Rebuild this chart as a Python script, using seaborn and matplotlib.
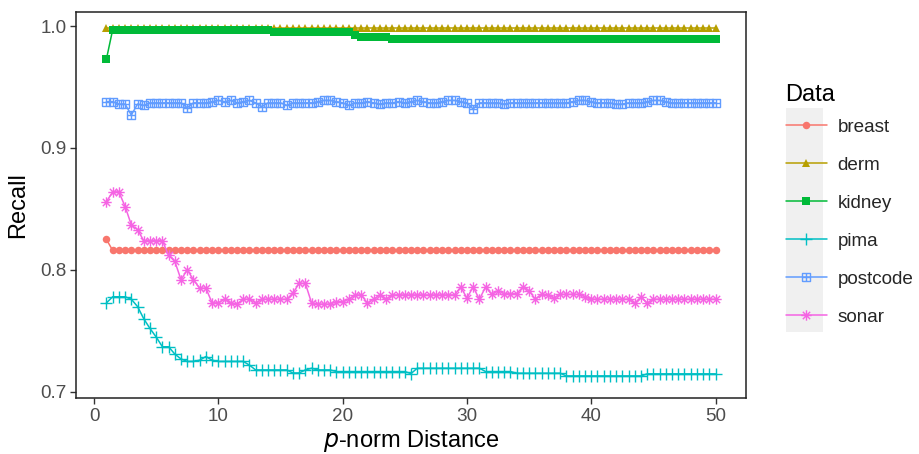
import numpy as np
import pandas as pd
import matplotlib
matplotlib.use("Agg")
import matplotlib.pyplot as plt
import seaborn as sns
from matplotlib.path import Path
from matplotlib.patches import Rectangle

# ---------------- data ----------------
p_values = np.arange(1.0, 50.01, 0.5)   # 99 p-norm distances

breast = [0.825, 0.816, 0.816, 0.816, 0.816, 0.816, 0.816, 0.816, 0.816, 0.816,
          0.816, 0.816, 0.816, 0.816, 0.816, 0.816, 0.816, 0.816, 0.816, 0.816,
          0.816, 0.816, 0.816, 0.816, 0.816, 0.816, 0.816, 0.816, 0.816, 0.816,
          0.816, 0.816, 0.816, 0.816, 0.816, 0.816, 0.816, 0.816, 0.816, 0.816,
          0.816, 0.816, 0.816, 0.816, 0.816, 0.816, 0.816, 0.816, 0.816, 0.816,
          0.816, 0.816, 0.816, 0.816, 0.816, 0.816, 0.816, 0.816, 0.816, 0.816,
          0.816, 0.816, 0.816, 0.816, 0.816, 0.816, 0.816, 0.816, 0.816, 0.816,
          0.816, 0.816, 0.816, 0.816, 0.816, 0.816, 0.816, 0.816, 0.816, 0.816,
          0.816, 0.816, 0.816, 0.816, 0.816, 0.816, 0.816, 0.816, 0.816, 0.816,
          0.816, 0.816, 0.816, 0.816, 0.816, 0.816, 0.816, 0.816, 0.816]

derm = [0.998, 0.998, 0.998, 0.998, 0.998, 0.998, 0.998, 0.998, 0.998, 0.998,
        0.998, 0.998, 0.998, 0.998, 0.998, 0.998, 0.998, 0.998, 0.998, 0.998,
        0.998, 0.998, 0.998, 0.998, 0.998, 0.998, 0.998, 0.998, 0.998, 0.998,
        0.998, 0.998, 0.998, 0.998, 0.998, 0.998, 0.998, 0.998, 0.998, 0.998,
        0.998, 0.998, 0.998, 0.998, 0.998, 0.998, 0.998, 0.998, 0.998, 0.998,
        0.998, 0.998, 0.998, 0.998, 0.998, 0.998, 0.998, 0.998, 0.998, 0.998,
        0.998, 0.998, 0.998, 0.998, 0.998, 0.998, 0.998, 0.998, 0.998, 0.998,
        0.998, 0.998, 0.998, 0.998, 0.998, 0.998, 0.998, 0.998, 0.998, 0.998,
        0.998, 0.998, 0.998, 0.998, 0.998, 0.998, 0.998, 0.998, 0.998, 0.998,
        0.998, 0.998, 0.998, 0.998, 0.998, 0.998, 0.998, 0.998, 0.998]

kidney = [0.973, 0.997, 0.997, 0.997, 0.997, 0.997, 0.997, 0.997, 0.997, 0.997,
          0.997, 0.997, 0.997, 0.997, 0.997, 0.997, 0.997, 0.997, 0.997, 0.997,
          0.997, 0.997, 0.997, 0.997, 0.997, 0.997, 0.997, 0.995, 0.995, 0.995,
          0.995, 0.995, 0.995, 0.995, 0.995, 0.995, 0.995, 0.995, 0.995, 0.995,
          0.993, 0.991, 0.991, 0.991, 0.991, 0.991, 0.989, 0.989, 0.989, 0.989,
          0.989, 0.989, 0.989, 0.989, 0.989, 0.989, 0.989, 0.989, 0.989, 0.989,
          0.989, 0.989, 0.989, 0.989, 0.989, 0.989, 0.989, 0.989, 0.989, 0.989,
          0.989, 0.989, 0.989, 0.989, 0.989, 0.989, 0.989, 0.989, 0.989, 0.989,
          0.989, 0.989, 0.989, 0.989, 0.989, 0.989, 0.989, 0.989, 0.989, 0.989,
          0.989, 0.989, 0.989, 0.989, 0.989, 0.989, 0.989, 0.989, 0.989]

pima = [0.773, 0.778, 0.778, 0.778, 0.776, 0.770, 0.760, 0.752, 0.745, 0.737,
        0.737, 0.731, 0.727, 0.725, 0.725, 0.726, 0.729, 0.726, 0.725, 0.725,
        0.725, 0.725, 0.725, 0.722, 0.718, 0.718, 0.718, 0.718, 0.718, 0.718,
        0.7155, 0.7155, 0.718, 0.7194, 0.718, 0.718, 0.718, 0.7167, 0.7167, 0.7167,
        0.7167, 0.7167, 0.7167, 0.7167, 0.7167, 0.7167, 0.7167, 0.7167, 0.7167, 0.715,
        0.7194, 0.7194, 0.7194, 0.7194, 0.7194, 0.7194, 0.7194, 0.7194, 0.7194, 0.7194,
        0.7194, 0.7167, 0.7167, 0.7167, 0.7167, 0.7167, 0.7153, 0.7153, 0.7153, 0.7153,
        0.7153, 0.7153, 0.7153, 0.7153, 0.7131, 0.7131, 0.7131, 0.7131, 0.7131, 0.7131,
        0.7131, 0.7131, 0.7131, 0.7131, 0.7131, 0.7131, 0.7131, 0.7148, 0.7148, 0.7148,
        0.7148, 0.7148, 0.7148, 0.7148, 0.7148, 0.7148, 0.7148, 0.7148, 0.7148]

postcode = [0.938, 0.938, 0.936, 0.936, 0.927, 0.936, 0.935, 0.937, 0.937, 0.937,
            0.937, 0.937, 0.937, 0.933, 0.937, 0.937, 0.937, 0.938, 0.939, 0.938,
            0.939, 0.937, 0.938, 0.939, 0.937, 0.934, 0.937, 0.937, 0.937, 0.935,
            0.937, 0.937, 0.937, 0.937, 0.938, 0.939, 0.939, 0.938, 0.937, 0.935,
            0.937, 0.937, 0.938, 0.937, 0.936, 0.937, 0.937, 0.938, 0.937, 0.938,
            0.939, 0.938, 0.937, 0.937, 0.938, 0.939, 0.939, 0.938, 0.937, 0.932,
            0.937, 0.937, 0.937, 0.937, 0.936, 0.937, 0.937, 0.937, 0.937, 0.937,
            0.937, 0.937, 0.937, 0.937, 0.937, 0.938, 0.939, 0.939, 0.938, 0.937,
            0.937, 0.937, 0.936, 0.936, 0.937, 0.937, 0.937, 0.938, 0.939, 0.939,
            0.938, 0.937, 0.937, 0.937, 0.937, 0.937, 0.937, 0.937, 0.937]

sonar = [0.856, 0.864, 0.864, 0.852, 0.837, 0.833, 0.824, 0.824, 0.824, 0.824,
         0.812, 0.807, 0.792, 0.800, 0.792, 0.785, 0.785, 0.773, 0.773, 0.776,
         0.773, 0.772, 0.776, 0.776, 0.773, 0.776, 0.776, 0.776, 0.776, 0.776,
         0.781, 0.789, 0.789, 0.773, 0.772, 0.772, 0.772, 0.774, 0.774, 0.776,
         0.7795, 0.7795, 0.7727, 0.776, 0.7795, 0.776, 0.7795, 0.7795, 0.7795, 0.7795,
         0.7795, 0.7795, 0.7795, 0.7795, 0.7795, 0.7795, 0.7795, 0.786, 0.777, 0.786,
         0.776, 0.786, 0.780, 0.783, 0.7805, 0.7805, 0.7805, 0.786, 0.783, 0.776,
         0.780, 0.7795, 0.777, 0.780, 0.780, 0.780, 0.780, 0.778, 0.776, 0.776,
         0.776, 0.776, 0.776, 0.776, 0.776, 0.7727, 0.778, 0.7727, 0.776, 0.776,
         0.776, 0.776, 0.776, 0.776, 0.776, 0.776, 0.776, 0.776, 0.776]

datasets = ["breast", "derm", "kidney", "pima", "postcode", "sonar"]
series = [breast, derm, kidney, pima, postcode, sonar]
x_ticks = [0, 10, 20, 30, 40, 50]
y_ticks = [0.7, 0.8, 0.9, 1.0]
y_tick_labels = ["0.7", "0.8", "0.9", "1.0"]

df = pd.concat([pd.DataFrame({"p": p_values, "Recall": v, "Data": n})
                for n, v in zip(datasets, series)], ignore_index=True)

# ---------------- styling ----------------
colors = {"breast": "#F8766D", "derm": "#B79F00", "kidney": "#00BA38",
          "pima": "#00BFC4", "postcode": "#619CFF", "sonar": "#F564E3"}

sq_plus = Path([(-1, -1), (1, -1), (1, 1), (-1, 1), (-1, -1),
                (0, -1), (0, 1), (-1, 0), (1, 0)],
               [Path.MOVETO, Path.LINETO, Path.LINETO, Path.LINETO, Path.LINETO,
                Path.MOVETO, Path.LINETO, Path.MOVETO, Path.LINETO])
s = 0.7071
asterisk = Path([(0, -1), (0, 1), (-1, 0), (1, 0), (-s, -s), (s, s), (-s, s), (s, -s)],
                [Path.MOVETO, Path.LINETO, Path.MOVETO, Path.LINETO,
                 Path.MOVETO, Path.LINETO, Path.MOVETO, Path.LINETO])

mstyle = {
    "breast":   dict(marker="o", markersize=5.4, mfc=colors["breast"], mew=0),
    "derm":     dict(marker="^", markersize=6.0, mfc=colors["derm"], mew=0),
    "kidney":   dict(marker="s", markersize=5.2, mfc=colors["kidney"], mew=0),
    "pima":     dict(marker="+", markersize=8.0, mfc="none", mew=1.0),
    "postcode": dict(marker=sq_plus, markersize=5.5, mfc="none", mew=1.0),
    "sonar":    dict(marker=asterisk, markersize=7.5, mfc="none", mew=1.0),
}

sns.set_theme(style="white")
plt.rcParams["font.family"] = ["Liberation Sans", "DejaVu Sans"]

fig = plt.figure(figsize=(9.2, 4.54), dpi=100)
ax = fig.add_axes([76 / 920, 1 - 398 / 454, 670 / 920, 386 / 454])

for name in datasets:
    sub = df[df["Data"] == name]
    st = mstyle[name]
    sns.lineplot(data=sub, x="p", y="Recall", ax=ax, color=colors[name],
                 linewidth=1.1, marker=st["marker"], markersize=st["markersize"],
                 markerfacecolor=st["mfc"], markeredgecolor=colors[name],
                 markeredgewidth=st["mew"], label=name, errorbar=None)

ax.set_xlim(-1.45, 52.45)
ax.set_ylim(0.695, 1.0115)
ax.set_xticks(x_ticks)
ax.set_yticks(y_ticks)
ax.set_yticklabels(y_tick_labels)
ax.tick_params(axis="both", which="major", length=4, width=1.0, color="#333333",
               labelsize=13.6, labelcolor="#4D4D4D", direction="out",
               bottom=True, left=True, pad=3)
for sp in ax.spines.values():
    sp.set_color("#222222")
    sp.set_linewidth(1.1)
ax.grid(False)
ax.set_xlabel(r"$\it{p}$-norm Distance", fontsize=17, color="black", labelpad=2)
ax.set_ylabel("Recall", fontsize=17, color="black", labelpad=8)

handles, labels = ax.get_legend_handles_labels()
if ax.get_legend() is not None:
    ax.get_legend().remove()

# legend key background
fig.patches.append(Rectangle((786 / 920, 1 - 332 / 454), 37 / 920, 224 / 454,
                             transform=fig.transFigure, facecolor="#F0F0F0",
                             edgecolor="none", zorder=0))
fig.text(785 / 920, 1 - 95 / 454, "Data", fontsize=17, color="black",
         ha="left", va="center")
leg = fig.legend(handles, labels, loc="upper left",
                 bbox_to_anchor=(778 / 920, 1 - 111 / 454), frameon=False,
                 fontsize=13.6, handlelength=2.2,
                 handletextpad=0.55, labelspacing=1.1,
                 borderaxespad=0)

fig.savefig("out.png", dpi=100)
